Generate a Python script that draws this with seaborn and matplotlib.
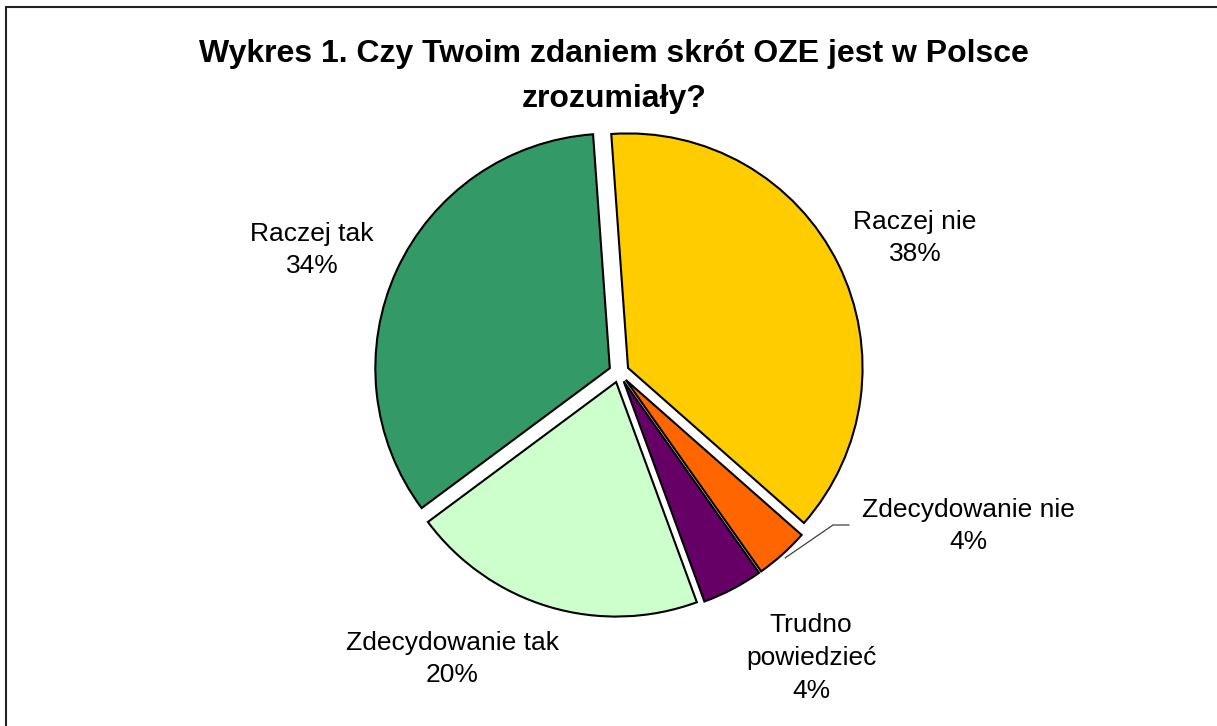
import matplotlib
matplotlib.use("Agg")
import matplotlib.pyplot as plt
import seaborn as sns
from matplotlib.lines import Line2D

# Data
categories = ["Raczej nie", "Zdecydowanie nie", "Trudno\npowiedzieć",
              "Zdecydowanie tak", "Raczej tak"]
shares = [37.6, 3.7, 4.2, 20.4, 34.0]
colors = ["#FFCC00", "#FF6600", "#660066", "#CCFFCC", "#339966"]
title_lines = ["Wykres 1. Czy Twoim zdaniem skrót OZE jest w Polsce", "zrozumiały?"]

sns.set_theme(style="white")
plt.rcParams["font.family"] = ["Liberation Sans", "DejaVu Sans"]
plt.rcParams["text.color"] = "black"

W, H = 1217, 726
CX, CY, R = 619, 372.4, 234.5   # pie centre / radius in pixels


def px(x, y):
    # pixel -> data coords
    return (x - CX) / R, (CY - y) / R


fig = plt.figure(figsize=(W / 100, H / 100), dpi=100)
ax = fig.add_axes([0, 0, 1, 1])

labels = [f"{c}\n{round(v):.0f}%" for c, v in zip(categories, shares)]
wedges, texts = ax.pie(shares, colors=colors, labels=labels, startangle=94.1,
                       counterclock=False, explode=[0.043] * len(shares),
                       wedgeprops=dict(edgecolor="black", linewidth=1.5),
                       textprops=dict(fontsize=19, ha="center", va="center",
                                      linespacing=1.45, color="black"))

# label positions (pixels)
label_pos = [(915, 238), (968, 526), (811, 658), (452, 659), (312, 250)]
for t, (x, y) in zip(texts, label_pos):
    t.set_position(px(x, y))
    t.set_ha("center")
    t.set_va("center")

# leader line for "Zdecydowanie nie"
lx, ly = zip(*[px(849, 525), px(833, 525), px(785, 558)])
ax.plot(lx, ly, color="#404040", linewidth=0.9)

ax.set_xlim(-CX / R, (W - CX) / R)
ax.set_ylim((CY - H) / R, CY / R)
ax.set_aspect("auto")
ax.axis("off")

# title
fig.text(614 / W, 1 - 62 / H, title_lines[0], ha="center", va="baseline",
         fontsize=23, fontweight="bold", color="black")
fig.text(614 / W, 1 - 107 / H, title_lines[1], ha="center", va="baseline",
         fontsize=23, fontweight="bold", color="black")

# chart frame (left and top edges visible)
fig.add_artist(Line2D([6 / W, 6 / W], [0, 1 - 7 / H], color="#222222",
                      linewidth=1.5, transform=fig.transFigure))
fig.add_artist(Line2D([6 / W, 1], [1 - 7 / H, 1 - 7 / H], color="#222222",
                      linewidth=1.5, transform=fig.transFigure))

fig.savefig("out.png", dpi=100)
